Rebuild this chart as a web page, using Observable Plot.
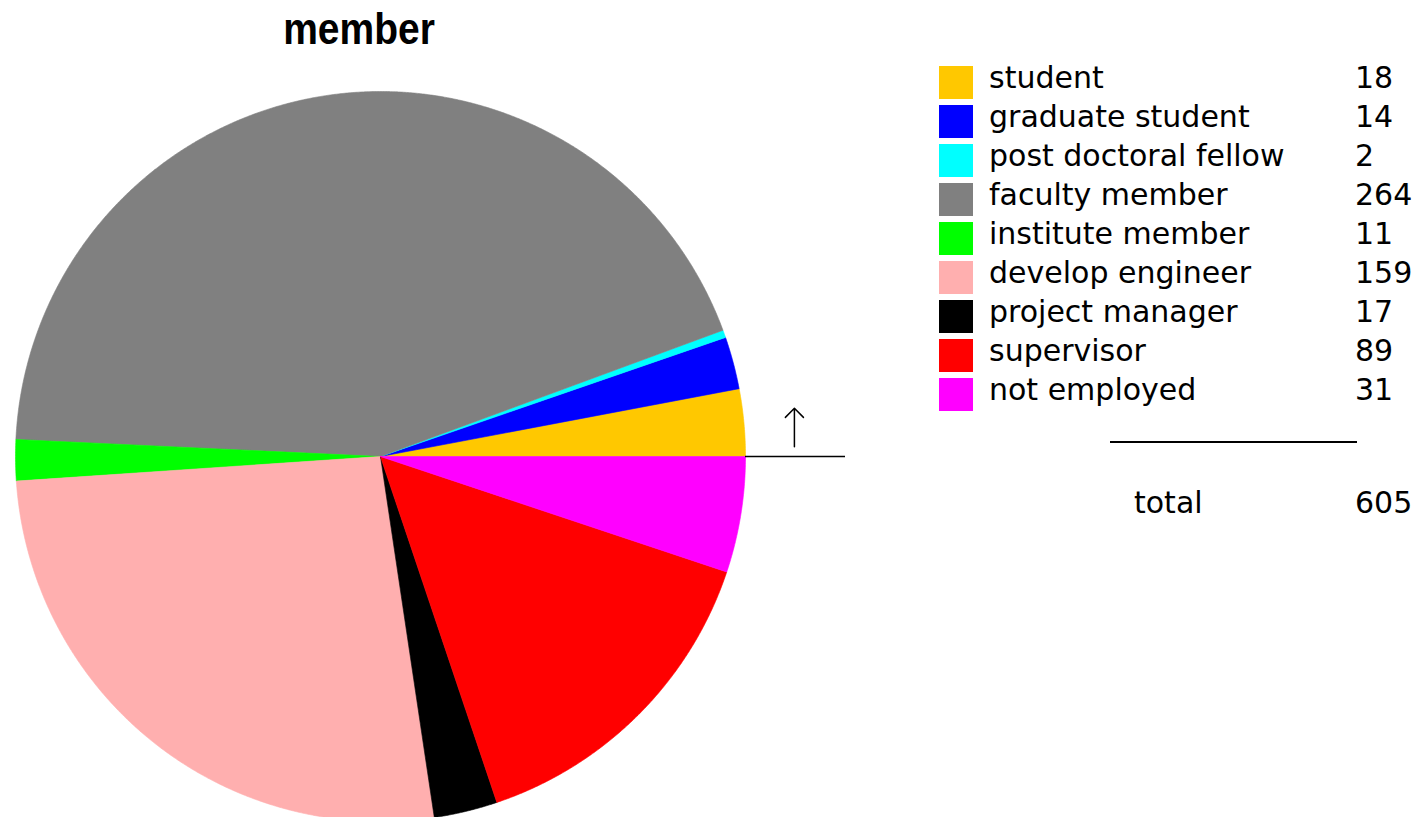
<!DOCTYPE html>
<html><head><meta charset="utf-8">
<script src="https://cdn.jsdelivr.net/npm/d3@7"></script>
<script src="https://cdn.jsdelivr.net/npm/@observablehq/plot@0.6"></script>
<style>
html,body{margin:0;padding:0;background:#fff;width:1422px;height:817px;overflow:hidden;}
#wrap{position:relative;width:1422px;height:817px;}
#chart{position:absolute;left:0;top:0;}
.title{position:absolute;left:0;width:718px;top:9px;line-height:39px;text-align:center;font:bold 39px "Liberation Sans",Arial,sans-serif;color:#000;transform:scaleY(1.15);transform-origin:50% 33px;}
.lg{position:absolute;font:30px "DejaVu Sans",sans-serif;line-height:30px;color:#000;white-space:nowrap;}
.sw{position:absolute;left:939px;width:34px;height:33px;}
.rule{position:absolute;left:1110px;top:441px;width:247px;height:2px;background:#000;}
</style></head>
<body><div id="wrap"><div id="chart"></div><div class="title">member</div></div>
<script>
// data
const categories = ["student","graduate student","post doctoral fellow","faculty member","institute member","develop engineer","project manager","supervisor","not employed"];
const values = [18, 14, 2, 264, 11, 159, 17, 89, 31];
const colors = ["#FFC800","#0000FF","#00FFFF","#808080","#00FF00","#FFAFAF","#000000","#FF0000","#FF00FF"];
const totalLabel = "total";

const total = d3.sum(values);
// build slice polygons (counterclockwise from 3 o'clock), unit radius
let acc = 0;
const pts = [];
categories.forEach((c, i) => {
  const a0 = acc / total * 2 * Math.PI;
  acc += values[i];
  const a1 = acc / total * 2 * Math.PI;
  const n = Math.max(2, Math.ceil((a1 - a0) / (Math.PI / 720)));
  pts.push({cat: c, x: 0, y: 0});
  for (let k = 0; k <= n; k++) {
    const a = a0 + (a1 - a0) * k / n;
    pts.push({cat: c, x: Math.cos(a), y: Math.sin(a)});
  }
  pts.push({cat: c, x: 0, y: 0});
});

// start-direction marker: baseline from the rim outward and an upward arrow
const markerLine = [{x1: 1, x2: 1.274, y: 0}];
const markerArrow = [{x: 1.134, y1: 0.027, y2: 0.132}];

const chart = Plot.plot({
  width: 1422, height: 817, margin: 0,
  style: {background: "transparent", overflow: "visible"},
  x: {domain: [-1, 1], range: [15, 745], axis: null},
  y: {domain: [-1, 1], range: [821, 91], axis: null},
  color: {domain: categories, range: colors},
  marks: [
    Plot.line(pts, {x: "x", y: "y", z: "cat", fill: "cat", stroke: "cat", strokeWidth: 0.6, curve: "linear"}),
    Plot.ruleY(markerLine, {x1: "x1", x2: "x2", y: "y", stroke: "#000", strokeWidth: 1.5}),
    Plot.arrow(markerArrow, {x1: "x", x2: "x", y1: "y1", y2: "y2", stroke: "#000", strokeWidth: 1.5, headAngle: 90, headLength: 18})
  ]
});
document.getElementById("chart").appendChild(chart);

// legend
const wrap = document.getElementById("wrap");
categories.forEach((c, i) => {
  const sw = document.createElement("div");
  sw.className = "sw"; sw.style.top = (66 + 39 * i) + "px"; sw.style.background = colors[i];
  wrap.appendChild(sw);
  const t = document.createElement("div");
  t.className = "lg"; t.style.left = "989px"; t.style.top = (62.6 + 39 * i) + "px"; t.textContent = c;
  wrap.appendChild(t);
  const v = document.createElement("div");
  v.className = "lg"; v.style.left = "1355px"; v.style.top = (62.6 + 39 * i) + "px"; v.textContent = values[i];
  wrap.appendChild(v);
});
const r = document.createElement("div"); r.className = "rule"; wrap.appendChild(r);
const tl = document.createElement("div"); tl.className = "lg"; tl.style.left = "1134px"; tl.style.top = "487.6px"; tl.textContent = totalLabel; wrap.appendChild(tl);
const tv = document.createElement("div"); tv.className = "lg"; tv.style.left = "1355px"; tv.style.top = "487.6px"; tv.textContent = total; wrap.appendChild(tv);
</script>
</body></html>
